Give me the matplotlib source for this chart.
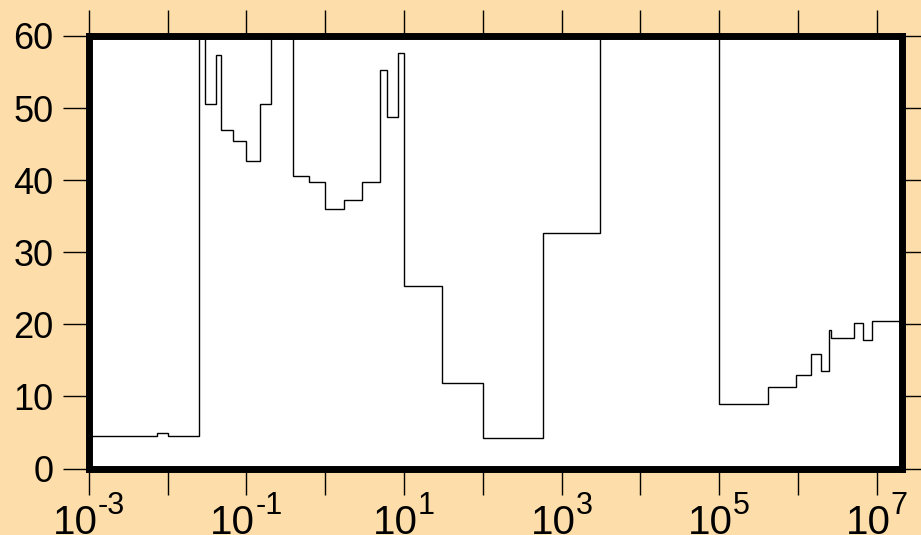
import numpy as np
import matplotlib.pyplot as plt
from matplotlib.ticker import FixedLocator, NullLocator

plt.rcParams['font.family'] = ['Liberation Sans', 'DejaVu Sans']

# bin edges as powers of ten, and the value held across each bin
edge_exp = [-3.0, -2.13, -2.0, -1.60, -1.524, -1.39, -1.317, -1.165, -1.0,
            -0.822, -0.69, -0.403, -0.20, 0.0, 0.24, 0.47, 0.693, 0.79, 0.92,
            1.0, 1.487, 2.0, 2.76, 3.49, 5.0, 5.617, 5.98, 6.16, 6.29, 6.40,
            6.415, 6.71, 6.83, 6.94, 7.32]
step_vals = [4.5, 4.9, 4.5, 100, 50.6, 57.4, 46.9, 45.4, 42.6,
             50.6, 100, 40.6, 39.7, 36.0, 37.2, 39.7, 55.3, 48.8, 57.7,
             25.3, 11.9, 4.3, 32.7, 100, 9.0, 11.3, 13.0, 15.9, 13.5, 19.2,
             18.1, 20.2, 17.8, 20.4]

decades = list(range(-3, 8))
labelled = [-3, -1, 1, 3, 5, 7]
y_ticks = [0, 10, 20, 30, 40, 50, 60]

bg = '#FDDDAA'
fig = plt.figure(figsize=(9.21, 5.35), dpi=100, facecolor=bg)
ax = fig.add_axes([88.7 / 921, 66.5 / 535, 813.3 / 921, 432.5 / 535])
ax.set_facecolor('white')

edges = 10.0 ** np.array(edge_exp)
ax.stairs(step_vals, edges, baseline=None, color='black', linewidth=1.0)

ax.set_xscale('log')
ax.set_xlim(edges[0], edges[-1])
ax.set_ylim(0, 60)

ax.xaxis.set_major_locator(FixedLocator([10.0 ** k for k in decades]))
ax.xaxis.set_minor_locator(NullLocator())
ax.set_yticks(y_ticks)
ax.set_yticklabels([str(v) for v in y_ticks])

ax.tick_params(axis='x', which='major', direction='out', length=18.5, width=1.0,
               top=True, labelbottom=False)
ax.tick_params(axis='y', which='major', direction='out', length=18.5, width=1.0,
               right=True, labelsize=26, pad=7)

for sp in ax.spines.values():
    sp.set_linewidth(5)
    sp.set_zorder(5)

# decade labels: "10" with a raised exponent, the pair centred on its tick
renderer = fig.canvas.get_renderer()
for k in labelled:
    base = ax.annotate('10', xy=(10.0 ** k, 0), xycoords=('data', 'axes fraction'),
                       xytext=(0, -35), textcoords='offset pixels',
                       ha='left', va='top', fontsize=29, annotation_clip=False)
    sup = ax.annotate(str(k), xy=(10.0 ** k, 0), xycoords=('data', 'axes fraction'),
                      xytext=(0, -23), textcoords='offset pixels',
                      ha='left', va='top', fontsize=22, annotation_clip=False)
    w1 = base.get_window_extent(renderer).width
    w2 = sup.get_window_extent(renderer).width
    left = -(w1 + w2) / 2
    base.xyann = (left, -35)
    sup.xyann = (left + w1, -23)

fig.savefig('out.png', dpi=100, facecolor=bg)
